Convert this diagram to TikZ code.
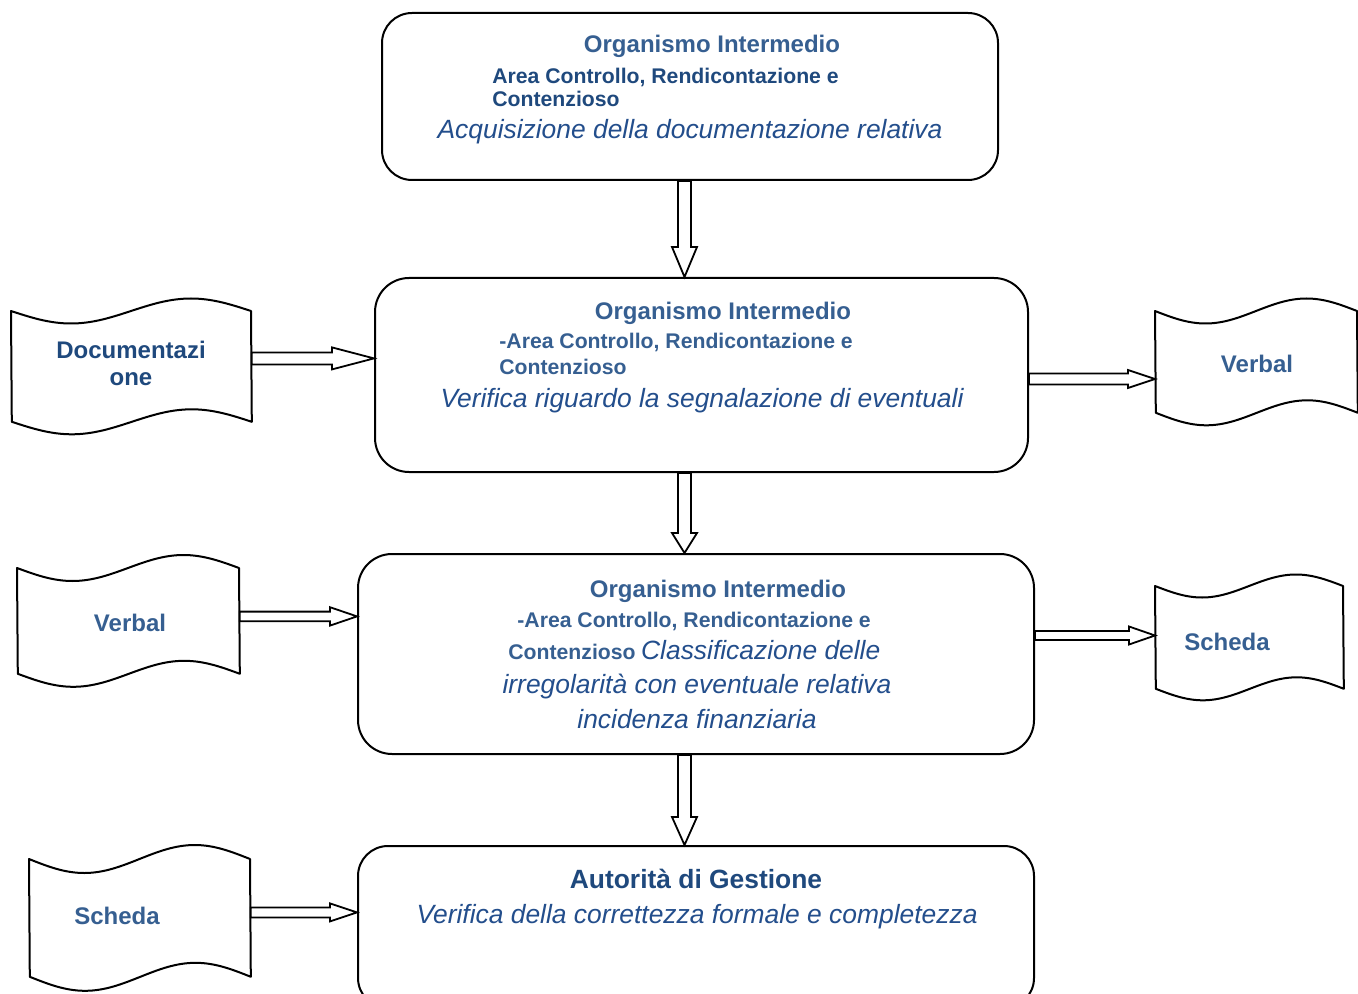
\documentclass[tikz,border=0pt]{standalone}
\usepackage{fontspec}
\setmainfont{Liberation Sans}
\usetikzlibrary{calc}
\definecolor{tblue}{RGB}{54,95,145}
\definecolor{dblue}{RGB}{31,73,125}
\definecolor{iblue}{RGB}{35,78,140}
\tikzset{
 box/.style={draw, line width=1pt, rounded corners=15pt, inner sep=0, anchor=north west},
 docbox/.style={inner sep=0, anchor=north west},
 docline/.style={draw, line width=1pt, line join=round},
 blockarrow/.style={draw, fill=white, line width=0.9pt, line join=miter},
 ttl/.style={font=\fontsize{12}{14}\selectfont\bfseries, text=tblue, inner sep=0, anchor=base},
 sub/.style={font=\fontsize{10.6}{12}\selectfont\bfseries, text=dblue, inner sep=0, anchor=base west},
 itl/.style={font=\fontsize{13.2}{16}\selectfont\itshape, text=iblue, inner sep=0, anchor=base},
 doct/.style={font=\fontsize{12}{14}\selectfont\bfseries, text=tblue, inner sep=0, anchor=base},
}
% wavy document outline around an (invisible) rectangle node
\newcommand\docoutline[3]{%
 \draw[docline] (#1.north west) sin ++({#2/4},#3) cos ++({#2/4},-#3) sin ++({#2/4},-#3) cos ++({#2/4},#3)
   -- (#1.south east) sin ++({-#2/4},-#3) cos ++({-#2/4},#3) sin ++({-#2/4},#3) cos ++({-#2/4},-#3) -- cycle;}
% hollow block arrow downwards: x of #1, from y of #1 to y of #2
\newcommand\darrow[5]{%
 \draw[blockarrow] let \p1=(#1), \p2=(#2) in
  (\x1-#3,\y1) -- (\x1-#3,\y2+#5) -- (\x1-#4,\y2+#5) -- (\x1,\y2) -- (\x1+#4,\y2+#5) -- (\x1+#3,\y2+#5) -- (\x1+#3,\y1) -- cycle;}
% hollow block arrow to the right: y of #1, from x of #1 to x of #2
\newcommand\rarrow[5]{%
 \draw[blockarrow] let \p1=(#1), \p2=(#2) in
  (\x1,\y1+#3) -- (\x2-#5,\y1+#3) -- (\x2-#5,\y1+#4) -- (\x2,\y1) -- (\x2-#5,\y1-#4) -- (\x2-#5,\y1-#3) -- (\x1,\y1-#3) -- cycle;}
\begin{document}
\begin{tikzpicture}[x=0.5pt, y=-0.5pt]
\useasboundingbox (0,0) rectangle (1358,994);
\clip (0,0) rectangle (1358,994);
\fill[white] (0,0) rectangle (1358,994);

% process boxes
\node[box, minimum width=616*0.5pt, minimum height=167*0.5pt] (b1) at (381,12) {};
\node[box, rounded corners=17pt, minimum width=653*0.5pt, minimum height=194*0.5pt] (b2) at (374,277) {};
\node[box, rounded corners=17pt, minimum width=676*0.5pt, minimum height=200*0.5pt] (b3) at (357,553) {};
\node[box, minimum width=676*0.5pt, minimum height=162*0.5pt] (b4) at (357,845) {};

% documents
\node[docbox, minimum width=240*0.5pt, minimum height=110*0.5pt] (d1) at (11,311) {};
\node[docbox, minimum width=202*0.5pt, minimum height=101*0.5pt] (v1) at (1155,311) {};
\node[docbox, minimum width=222*0.5pt, minimum height=105*0.5pt] (v2) at (17,568) {};
\node[docbox, minimum width=188*0.5pt, minimum height=102*0.5pt] (s1) at (1155,586) {};
\node[docbox, minimum width=221*0.5pt, minimum height=117*0.5pt] (s2) at (29,859) {};
\docoutline{d1}{240}{12.5}
\docoutline{v1}{202}{12.5}
\docoutline{v2}{222}{13}
\docoutline{s1}{188}{11.5}
\docoutline{s2}{221}{14}

% texts box 1
\node[ttl] (t1) at (712,53) {Organismo Intermedio};
\node[sub] (t1a) at (492,84) {Area Controllo, Rendicontazione e};
\node[sub] (t1b) at (492,107) {Contenzioso};
\node[itl] (t1c) at (690,139) {Acquisizione della documentazione relativa};
% box 2
\node[ttl] (t2) at (723,320) {Organismo Intermedio};
\node[sub, text=tblue] (t2a) at (499,349) {-Area Controllo, Rendicontazione e};
\node[sub, text=tblue] (t2b) at (499,374) {Contenzioso};
\node[itl] (t2c) at (702,407) {Verifica riguardo la segnalazione di eventuali};
% box 3
\node[ttl] (t3) at (718,597) {Organismo Intermedio};
\node[sub, text=tblue] (t3a) at (517,627) {-Area Controllo, Rendicontazione e};
\node[anchor=base west, inner sep=0] (t3b) at (508,659) {{\color{tblue}\fontsize{10.6}{12}\selectfont\bfseries Contenzioso} {\color{iblue}\fontsize{13.2}{16}\selectfont\itshape Classificazione delle}};
\node[itl] (t3c) at (697,693) {irregolarità con eventuale relativa};
\node[itl] (t3d) at (697,728) {incidenza finanziaria};
% box 4
\node[ttl, font=\fontsize{13.2}{16}\selectfont\bfseries, text=dblue] (t4) at (696,888) {Autorità di Gestione};
\node[itl] (t4a) at (697,923) {Verifica della correttezza formale e completezza};

% document texts
\node[doct, text=dblue] (td1) at (131,358) {Documentazi};
\node[doct, text=dblue] (td2) at (131,386) {one};
\node[doct] (tv1) at (1257,372) {Verbal};
\node[doct] (tv2) at (130,631) {Verbal};
\node[doct] (ts1) at (1227,650) {Scheda};
\node[doct] (ts2) at (117,924) {Scheda};

% arrows
\coordinate (ax) at (684.5,0);
\darrow{b1.south -| ax}{b2.north -| ax}{3.25pt}{6.25pt}{15pt}
\darrow{b2.south -| ax}{b3.north -| ax}{3.25pt}{6.25pt}{10pt}
\darrow{b3.south -| ax}{b4.north -| ax}{3.25pt}{6.25pt}{14pt}
\rarrow{$(d1.east)+(0,-8)$}{b2.west}{3pt}{5.5pt}{21pt}
\rarrow{$(b2.east)+(0,4)$}{v1.west}{2.75pt}{4.5pt}{13.5pt}
\rarrow{$(v2.east)+(0,-4.5)$}{b3.west}{2.4pt}{4.6pt}{13.5pt}
\rarrow{$(b3.east)+(0,-18.5)$}{s1.west}{2.25pt}{4.5pt}{13pt}
\rarrow{$(s2.east)+(0,-5.5)$}{b4.west}{2.5pt}{4.5pt}{13.5pt}
\end{tikzpicture}
\end{document}
